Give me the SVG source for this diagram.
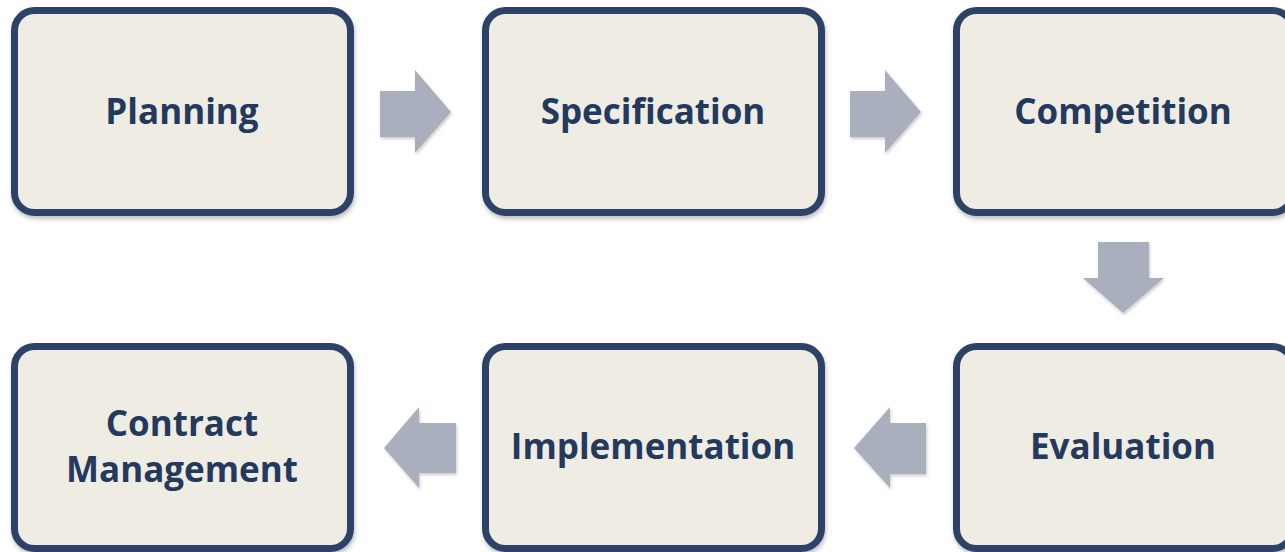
<svg xmlns="http://www.w3.org/2000/svg" width="1285" height="552" viewBox="0 0 1285 552">
<defs>
<filter id="sh" x="-5%" y="-5%" width="110%" height="115%">
<feDropShadow dx="1" dy="3" stdDeviation="2" flood-color="#000" flood-opacity="0.25"/>
</filter>
<filter id="ash" x="-10%" y="-10%" width="125%" height="125%">
<feDropShadow dx="1" dy="2" stdDeviation="1.5" flood-color="#000" flood-opacity="0.2"/>
</filter>
</defs>
<style>
.box{fill:#EFECE4;stroke:#2E4369;stroke-width:7;filter:url(#sh)}
.lbl{font-family:"Open Sans","Liberation Sans",sans-serif;font-weight:700;font-size:35px;fill:#23395D;text-anchor:middle}
.arr{fill:#A9AFBD;filter:url(#ash)}
</style>
<rect width="1285" height="552" fill="#FFFFFF"/>
<g id="connectors">
<path class="arr" d="M380,91 H415 V70 L451,112 L415,153 V137 H380 Z"/>
<path class="arr" d="M850,91 H885 V70 L921,112 L885,153 V137 H850 Z"/>
<path class="arr" d="M1098,242 H1149 V278 H1164 L1123,313 L1083,278 H1098 Z"/>
<path class="arr" d="M926,423 H890 V407 L854,448 L890,488 V474 H926 Z"/>
<path class="arr" d="M456,423 H419 V407 L384,448 L419,488 V473 H456 Z"/>
</g>
<g id="planning">
<rect class="box" x="14.5" y="10.5" width="336" height="202" rx="20"/>
<text class="lbl" x="182" y="124">Planning</text>
</g>
<g id="specification">
<rect class="box" x="485.5" y="10.5" width="336" height="202" rx="20"/>
<text class="lbl" x="653" y="124">Specification</text>
</g>
<g id="competition">
<rect class="box" x="956.5" y="10.5" width="336" height="202" rx="20"/>
<text class="lbl" x="1123" y="124">Competition</text>
</g>
<g id="evaluation">
<rect class="box" x="956.5" y="346.5" width="336" height="202" rx="20"/>
<text class="lbl" x="1123" y="459">Evaluation</text>
</g>
<g id="implementation">
<rect class="box" x="485.5" y="346.5" width="336" height="202" rx="20"/>
<text class="lbl" x="653" y="459">Implementation</text>
</g>
<g id="contract-management">
<rect class="box" x="14.5" y="346.5" width="336" height="202" rx="20"/>
<text class="lbl" x="182" y="436">Contract</text>
<text class="lbl" x="182" y="482">Management</text>
</g>
</svg>
